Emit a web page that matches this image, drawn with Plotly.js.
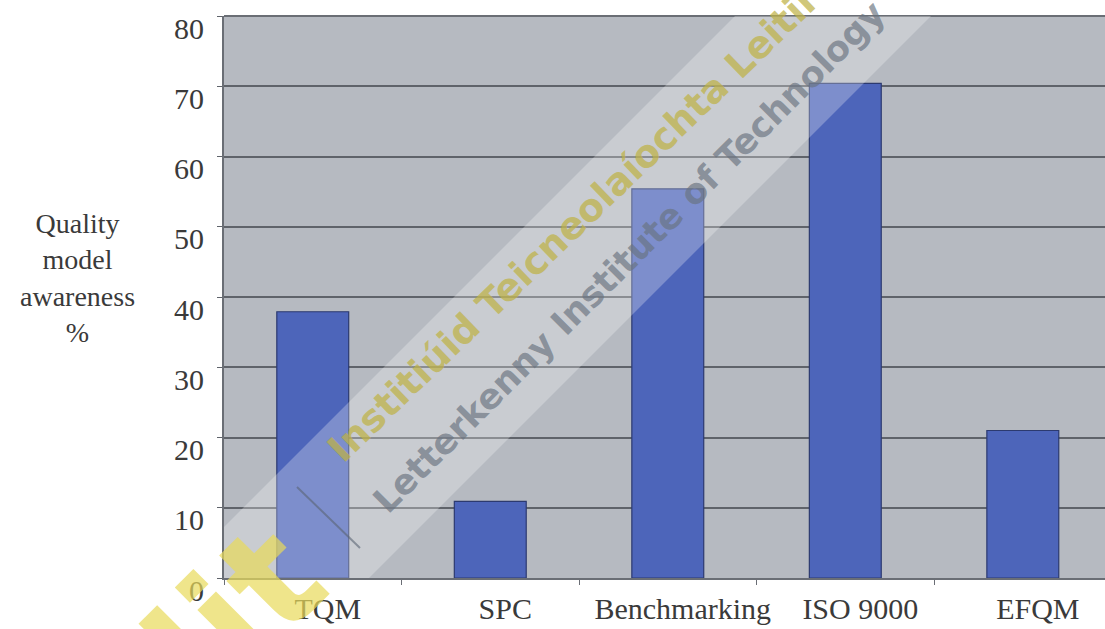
<!DOCTYPE html>
<html>
<head>
<meta charset="utf-8">
<script src="https://cdn.plot.ly/plotly-3.0.1.min.js"></script>
<style>html,body{margin:0;padding:0;background:#fff;}#chart{width:1105px;height:629px;}</style>
</head>
<body>
<div id="chart"></div>
<script>
// ---- data ----
const categories = ["TQM", "SPC", "Benchmarking", "ISO 9000", "EFQM"];
const awareness = [37.9, 10.9, 55.4, 70.4, 21.0];
const yTicks = [0, 10, 20, 30, 40, 50, 60, 70, 80];
const yTitleLines = ["Quality", "model", "awareness", "%"];
const watermarkIrish = "Institiúid Teicneolaíochta Leitir Ceanainn";
const watermarkEnglish = "Letterkenny Institute of Technology";
const watermarkLogo = "lit";

// ---- plot geometry helpers (pixels -> paper) ----
const W = 1105, H = 629, ML = 224, MR = 0, MT = 16, MB = 51;
const PW = W - ML - MR, PH = H - MT - MB;
const px = x => (x - ML) / PW;
const py = y => (H - MB - y) / PH;

const serif = "'Liberation Serif', 'Times New Roman', serif";
const textCol = "#3a3a3a";

const trace = {
  type: "bar",
  x: categories,
  y: awareness,
  marker: { color: "#4d65ba", line: { color: "#2c3a70", width: 1.2 } },
  hoverinfo: "x+y"
};

const layout = {
  width: W, height: H,
  margin: { l: ML, r: MR, t: MT, b: MB },
  paper_bgcolor: "#ffffff",
  plot_bgcolor: "#b6bac1",
  showlegend: false,
  bargap: 0.595,
  xaxis: {
    type: "category",
    range: [-0.5, 4.463],
    showgrid: false,
    ticks: "outside",
    tickson: "boundaries",
    ticklen: 5,
    tickcolor: "#6a6e75",
    showline: true,
    linecolor: "#6a6e75",
    linewidth: 2,
    tickangle: 0,
    tickfont: { family: serif, size: 30, color: textCol },
    ticklabelshift: 15,
    ticklabelstandoff: 3,
    ticklabeloverflow: "allow",
    fixedrange: true
  },
  yaxis: {
    range: [0, 80],
    tickvals: yTicks,
    ticktext: yTicks.map(String),
    showgrid: true,
    gridcolor: "#5f636a",
    gridwidth: 2,
    ticks: "outside",
    ticklen: 5,
    tickcolor: "#5f636a",
    showline: true,
    linecolor: "#6a6e75",
    linewidth: 2,
    zeroline: false,
    tickfont: { family: serif, size: 30, color: textCol },
    ticklabelshift: 12,
    ticklabelstandoff: 7,
    ticklabeloverflow: "allow",
    fixedrange: true
  },
  shapes: [
    // top border of the plot area
    {
      type: "line", xref: "paper", yref: "paper", layer: "above",
      x0: 0, x1: 1, y0: 1, y1: 1,
      line: { color: "#6a6e75", width: 2 }
    },
    // translucent diagonal watermark band
    {
      type: "path", xref: "paper", yref: "paper", layer: "above",
      path: `M ${px(224)} ${py(527)} L ${px(224)} ${py(578)} L ${px(369)} ${py(578)} L ${px(931)} ${py(16)} L ${px(735)} ${py(16)} Z`,
      fillcolor: "rgba(255,255,255,0.27)", line: { width: 0 }
    },
    // small divider stroke of the watermark
    {
      type: "line", xref: "paper", yref: "paper", layer: "above",
      x0: px(297), y0: py(487), x1: px(360), y1: py(548),
      line: { color: "rgba(90,100,115,0.6)", width: 2 }
    }
  ],
  annotations: [
    {
      text: yTitleLines.join("<br>"), xref: "paper", yref: "paper",
      x: px(77), y: py(278), xanchor: "center", yanchor: "middle",
      showarrow: false, align: "center",
      font: { family: serif, size: 28, color: textCol }
    },
    {
      text: watermarkIrish, xref: "paper", yref: "paper",
      x: px(650), y: py(150), xanchor: "center", yanchor: "middle",
      showarrow: false, textangle: -44,
      font: { family: "'DejaVu Sans', sans-serif", size: 38, color: "rgba(190,178,70,0.72)", weight: "bold" }
    },
    {
      text: watermarkEnglish, xref: "paper", yref: "paper",
      x: px(629), y: py(257), xanchor: "center", yanchor: "middle",
      showarrow: false, textangle: -45,
      font: { family: "'DejaVu Sans', sans-serif", size: 35, color: "rgba(105,115,128,0.68)", weight: "bold" }
    },
    {
      text: watermarkLogo, xref: "paper", yref: "paper",
      x: px(235), y: py(615), xanchor: "center", yanchor: "middle",
      showarrow: false, textangle: -45,
      font: { family: "'DejaVu Sans', sans-serif", size: 150, color: "rgba(232,218,90,0.7)", weight: "bold" }
    }
  ]
};

Plotly.newPlot("chart", [trace], layout, { staticPlot: true, displayModeBar: false });
</script>
</body>
</html>
